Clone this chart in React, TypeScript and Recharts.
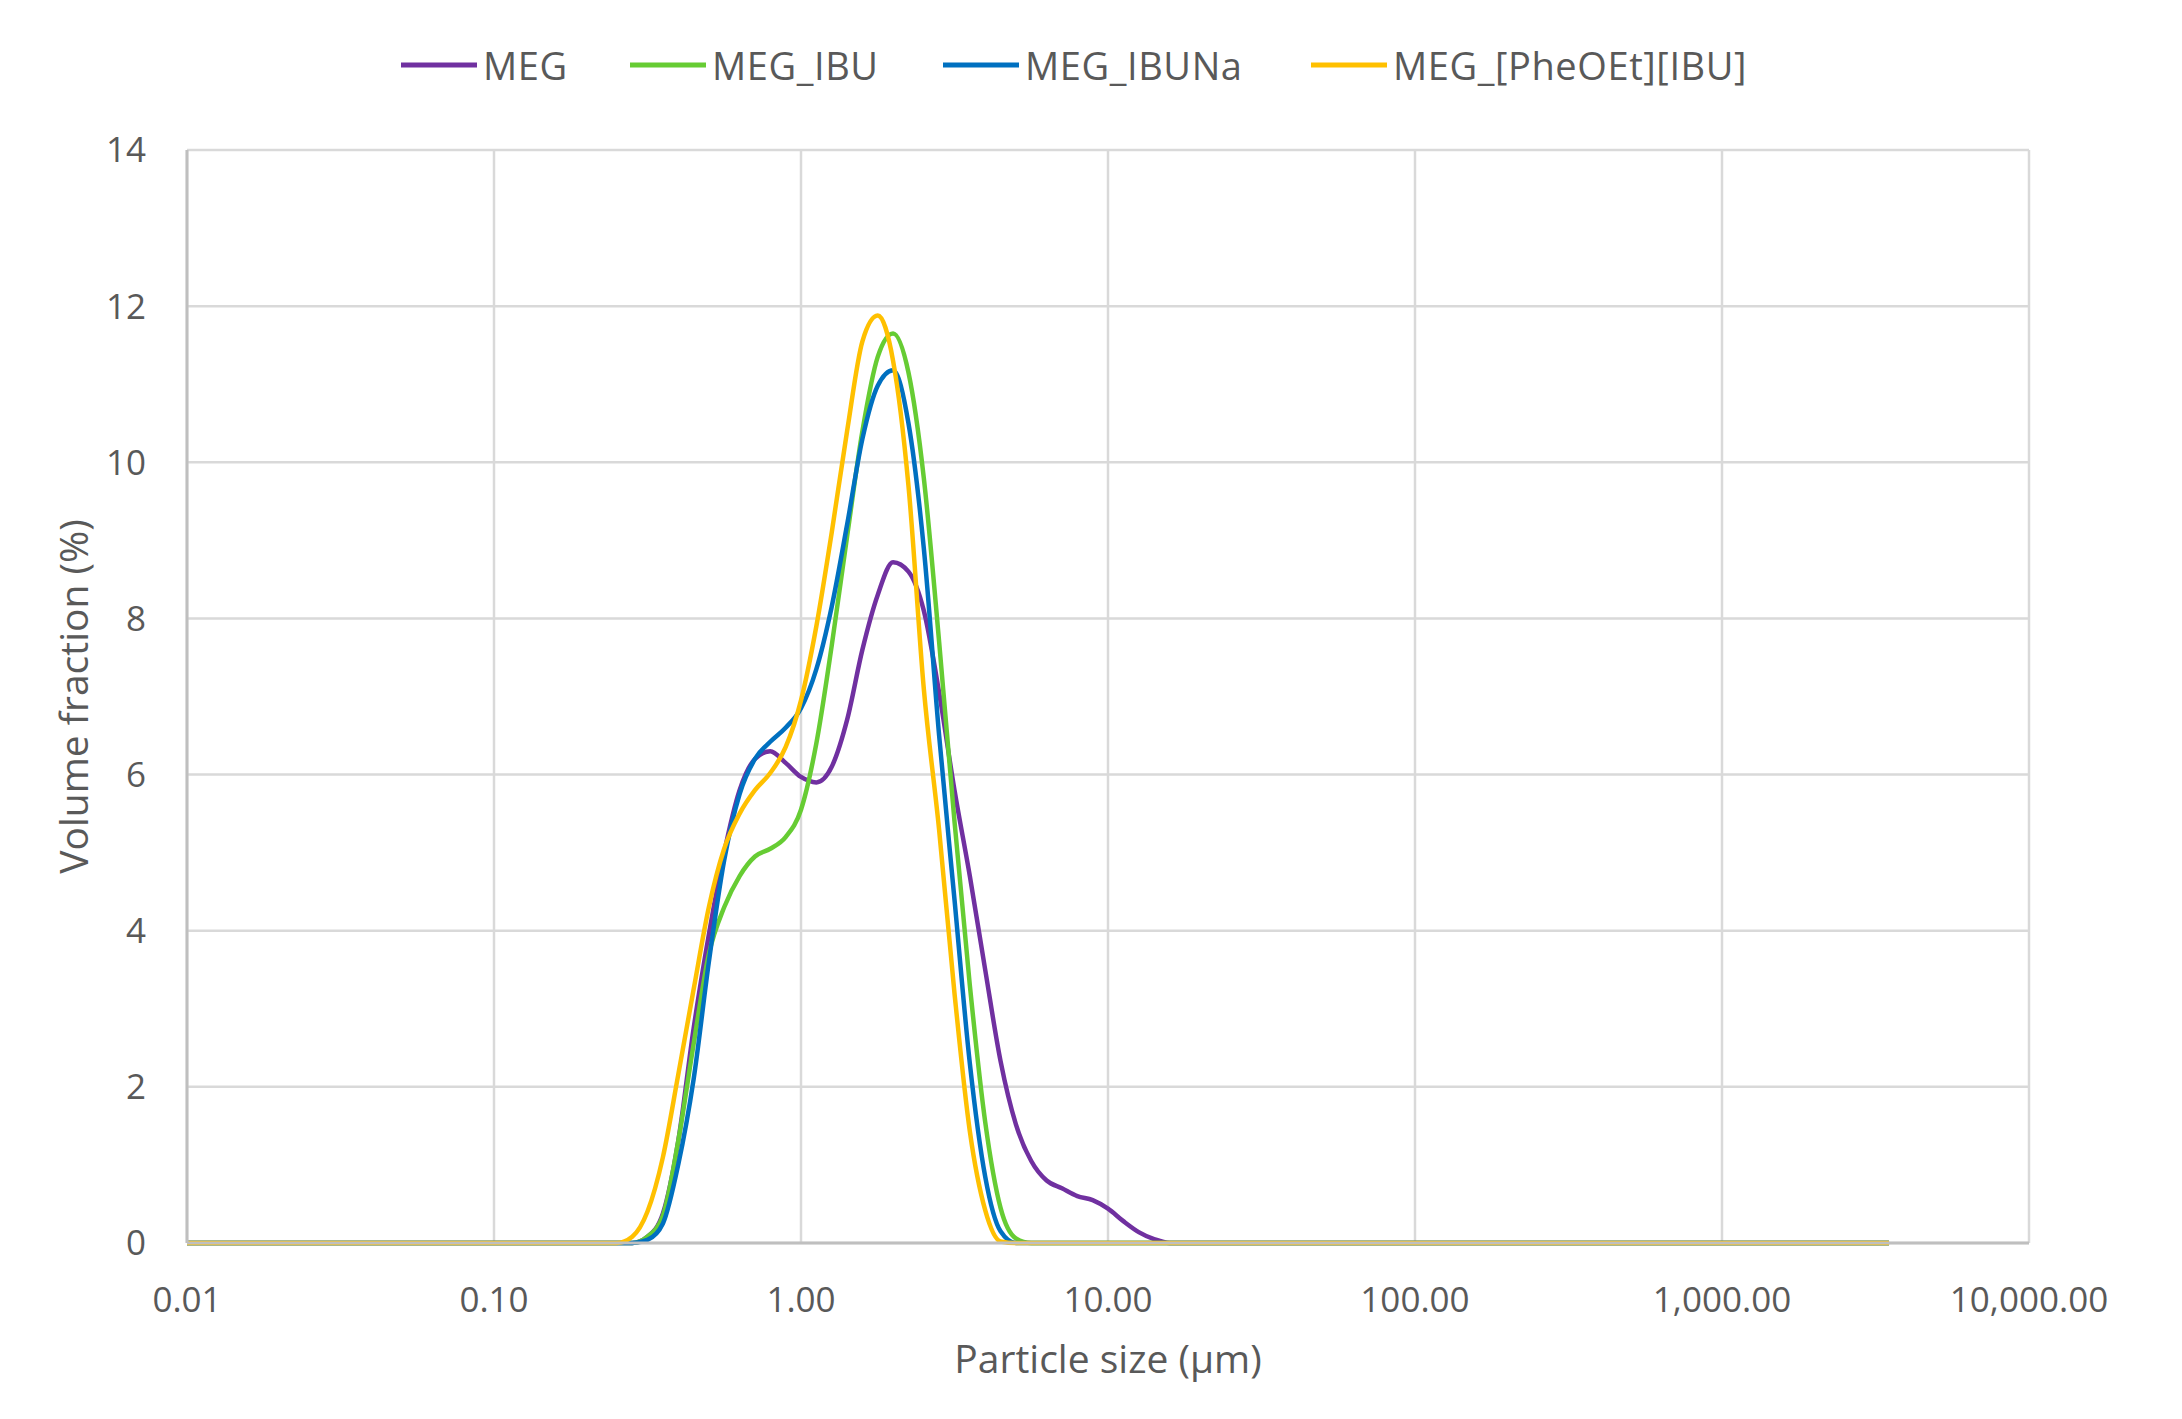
import React from "react";
import { LineChart, Line, XAxis, YAxis, CartesianGrid, Label } from "recharts";

// Particle sizes (µm) of the distribution bins
const SIZES = [
  0.01, 0.2, 0.251, 0.282, 0.316, 0.355, 0.398, 0.447, 0.501, 0.562, 0.631, 0.708,
  0.794, 0.891, 1.0, 1.122, 1.259, 1.413, 1.585, 1.778, 1.995, 2.239, 2.512, 2.818,
  3.162, 3.548, 3.981, 4.467, 5.012, 5.623, 6.31, 7.079, 7.943, 8.913, 10.0, 11.22,
  12.59, 14.13, 15.85, 17.78, 20, 3500,
];

// Volume fraction (%) per series
const MEG = [
  0, 0, 0, 0, 0.08, 0.38, 1.3, 2.75, 3.95, 5.0, 5.8, 6.2, 6.3, 6.15, 5.97, 5.9, 6.1, 6.7,
  7.6, 8.3, 8.72, 8.6, 8.1, 7.05, 5.8, 4.7, 3.5, 2.33, 1.52, 1.05, 0.8, 0.7, 0.6, 0.55,
  0.44, 0.28, 0.14, 0.05, 0, 0, 0, 0,
];
const MEG_IBU = [
  0, 0, 0, 0, 0.08, 0.35, 1.3, 2.55, 3.7, 4.3, 4.7, 4.95, 5.05, 5.2, 5.55, 6.4, 7.65, 9.05,
  10.4, 11.35, 11.65, 11.15, 9.8, 7.7, 5.4, 3.3, 1.55, 0.45, 0.06, 0, 0, 0, 0, 0, 0, 0, 0,
  0, 0, 0, 0, 0,
];
const MEG_IBUNA = [
  0, 0, 0, 0, 0.04, 0.25, 1.0, 2.1, 3.6, 4.9, 5.75, 6.2, 6.42, 6.6, 6.85, 7.35, 8.15, 9.2,
  10.3, 10.98, 11.18, 10.5, 8.9, 6.5, 4.4, 2.3, 0.85, 0.15, 0, 0, 0, 0, 0, 0, 0, 0, 0, 0,
  0, 0, 0, 0,
];
const MEG_PHEOET_IBU = [
  0, 0, 0, 0.08, 0.4, 1.1, 2.15, 3.25, 4.3, 5.05, 5.5, 5.8, 6.02, 6.35, 6.95, 7.9, 9.1,
  10.4, 11.55, 11.88, 11.3, 9.7, 7.1, 5.29, 3.2, 1.43, 0.42, 0.02, 0, 0, 0, 0, 0, 0, 0, 0,
  0, 0, 0, 0, 0, 0,
];

const X_TICKS = [0.01, 0.1, 1, 10, 100, 1000, 10000];
const X_TICK_LABELS = ["0.01", "0.10", "1.00", "10.00", "100.00", "1,000.00", "10,000.00"];
const Y_TICKS = [0, 2, 4, 6, 8, 10, 12, 14];

const SERIES = [
  { key: "MEG", name: "MEG", values: MEG, color: "#7030A0" },
  { key: "MEG_IBU", name: "MEG_IBU", values: MEG_IBU, color: "#66CC33" },
  { key: "MEG_IBUNa", name: "MEG_IBUNa", values: MEG_IBUNA, color: "#0070C0" },
  { key: "MEG_PheOEt_IBU", name: "MEG_[PheOEt][IBU]", values: MEG_PHEOET_IBU, color: "#FFC000" },
];

const data = SIZES.map((s, i) => {
  const row: Record<string, number> = { size: s };
  SERIES.forEach((se) => {
    row[se.key] = se.values[i];
  });
  return row;
});

const FONT = "'Open Sans', 'Noto Sans', sans-serif";
const TEXT = "#595959";
const LEGEND_LEFTS = [393, 622, 935, 1303];

export default function App() {
  return (
    <div style={{ position: "relative", width: 2166, height: 1400, fontFamily: FONT }}>
      {SERIES.map((se, i) => (
        <div
          key={se.key}
          style={{
            position: "absolute",
            left: LEGEND_LEFTS[i],
            top: 57,
            transform: "translateY(-50%)",
            display: "flex",
            alignItems: "center",
            whiteSpace: "nowrap",
          }}
        >
          <svg width={76} height={8} style={{ display: "block" }}>
            <line x1={0} y1={4} x2={76} y2={4} stroke={se.color} strokeWidth={5} />
          </svg>
          <span style={{ marginLeft: 6, fontSize: 38, letterSpacing: 0.6, color: TEXT, lineHeight: 1 }}>
            {se.name}
          </span>
        </div>
      ))}
      <LineChart
        width={2166}
        height={1400}
        data={data}
        margin={{ top: 142, right: 145, left: 20, bottom: 15 }}
      >
        <CartesianGrid stroke="#D9D9D9" strokeWidth={2.5} />
        <XAxis
          dataKey="size"
          type="number"
          scale="log"
          domain={[0.01, 10000]}
          ticks={X_TICKS}
          interval={0}
          allowDataOverflow
          height={150}
          tickLine={false}
          tickSize={0}
          tickMargin={44}
          axisLine={{ stroke: "#BFBFBF", strokeWidth: 3 }}
          tick={{ fill: TEXT, fontSize: 35, fontFamily: FONT }}
          tickFormatter={(v: number) => X_TICK_LABELS[X_TICKS.indexOf(v)] ?? String(v)}
        >
          <Label
            content={(props: any) => {
              const vb = props.viewBox || { x: 179, y: 1235, width: 1842, height: 150 };
              return (
                <text
                  x={vb.x + vb.width / 2}
                  y={vb.y + 130}
                  textAnchor="middle"
                  fill={TEXT}
                  fontSize={39}
                  fontFamily={FONT}
                >
                  Particle size (µm)
                </text>
              );
            }}
          />
        </XAxis>
        <YAxis
          type="number"
          domain={[0, 14]}
          ticks={Y_TICKS}
          interval={0}
          width={159}
          tickLine={false}
          tickSize={0}
          tickMargin={41}
          axisLine={{ stroke: "#BFBFBF", strokeWidth: 3 }}
          tick={{ fill: TEXT, fontSize: 35, fontFamily: FONT }}
        >
          <Label
            content={(props: any) => {
              const vb = props.viewBox || { x: 20, y: 142, width: 159, height: 1093 };
              const cx = vb.x + 44;
              const cy = vb.y + vb.height / 2;
              return (
                <text
                  x={cx}
                  y={cy}
                  transform={`rotate(-90 ${cx} ${cy})`}
                  textAnchor="middle"
                  dominantBaseline="central"
                  fill={TEXT}
                  fontSize={39}
                  fontFamily={FONT}
                >
                  Volume fraction (%)
                </text>
              );
            }}
          />
        </YAxis>
        {SERIES.map((se) => (
          <Line
            key={se.key}
            dataKey={se.key}
            name={se.name}
            type="monotone"
            stroke={se.color}
            strokeWidth={4.5}
            dot={false}
            activeDot={false}
            isAnimationActive={false}
          />
        ))}
      </LineChart>
    </div>
  );
}
